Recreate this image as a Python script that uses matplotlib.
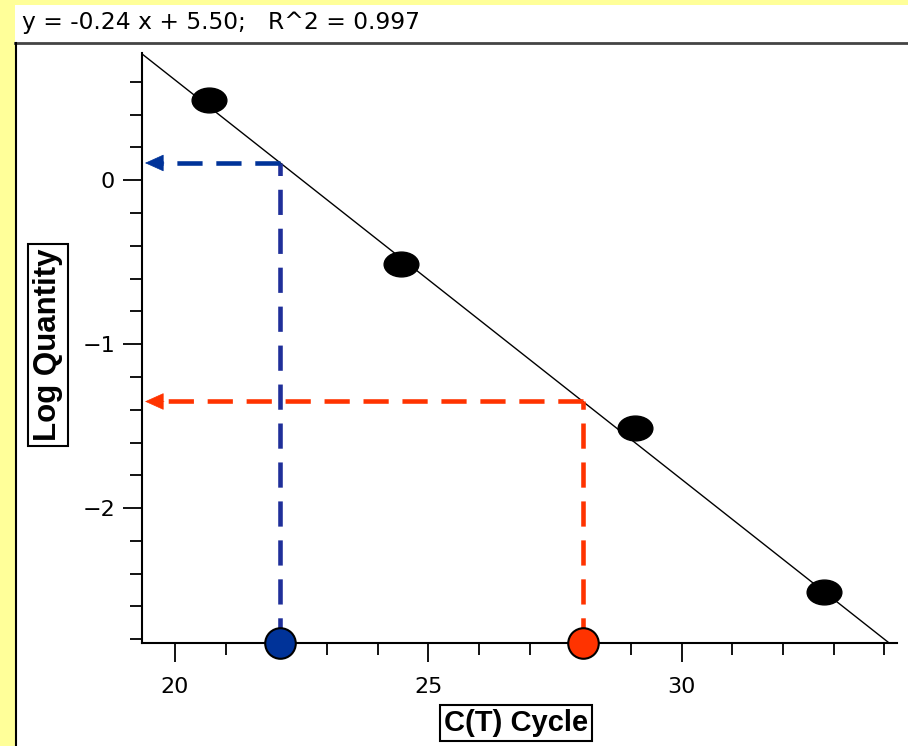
import numpy as np
import matplotlib.pyplot as plt
from matplotlib.path import Path
from matplotlib.transforms import Affine2D
from matplotlib.patches import Rectangle
from matplotlib.lines import Line2D
from matplotlib.ticker import MultipleLocator

plt.rcParams['font.family'] = 'DejaVu Sans'

# standard curve points (C(T) cycle vs log quantity)
ct_standards = [20.68, 24.46, 29.08, 32.81]
log_qty_standards = [0.49, -0.51, -1.51, -2.51]

# regression line as drawn
fit_slope = -0.2437
fit_intercept = 5.486

# unknown samples
ct_unknowns = [22.08, 28.05]
unknown_colors = ['#003399', '#ff3300']
dash_colors = ['#1f2f99', '#ff3300']

title_text = "y = -0.24 x + 5.50;   R^2 = 0.997"
x_ticks = [20, 25, 30]
y_ticks = [-2, -1, 0]

W, H = 908, 746
fig = plt.figure(figsize=(W / 100, H / 100), dpi=100, facecolor='#ffff99')


def fx(px):
    return px / W


def fy(py):
    return 1 - py / H


# white panel with frame lines
fig.add_artist(Rectangle((fx(15), 0), 1 - fx(15), fy(5), transform=fig.transFigure,
                         fc='white', ec='none', zorder=0))
fig.add_artist(Line2D([fx(15), 1], [fy(43), fy(43)], transform=fig.transFigure,
                      color='#444444', lw=2))
fig.add_artist(Line2D([fx(16), fx(16)], [0, fy(43)], transform=fig.transFigure,
                      color='black', lw=1.5))

fig.text(fx(22), fy(23), title_text, fontsize=16.8, ha='left', va='center')

ax = fig.add_axes([fx(142), fy(643), fx(897) - fx(142), fy(53) - fy(643)])
ax.patch.set_visible(False)
x0, x1 = 19.35, 34.25
y0, y1 = -2.823, 0.776
ax.set_xlim(x0, x1)
ax.set_ylim(y0, y1)

for s in ['top', 'right']:
    ax.spines[s].set_visible(False)
for s in ['left', 'bottom']:
    ax.spines[s].set_linewidth(1.5)

ax.set_xticks(x_ticks)
ax.set_yticks(y_ticks)
ax.xaxis.set_minor_locator(MultipleLocator(1))
ax.yaxis.set_minor_locator(MultipleLocator(0.2))
ax.tick_params(which='major', length=13.5, width=1.3, labelsize=16)
ax.tick_params(which='minor', length=8.5, width=1.3)
ax.tick_params(axis='x', which='major', pad=11)
ax.tick_params(axis='y', which='major', pad=6)

# regression line
xs = np.array([x0, x1])
ax.plot(xs, fit_slope * xs + fit_intercept, color='black', lw=1.0, zorder=2)

# standards as blobs
ell = Path.unit_circle().transformed(Affine2D().scale(1.4, 1.0))
ax.plot(ct_standards, log_qty_standards, linestyle='none', marker=ell,
        ms=25, color='black', zorder=3)

# unknowns: dashed guides + arrows
px_per_x = (897 - 142) / (x1 - x0)
tip_x = x0 + 3 / px_per_x
base_x = tip_x + 17 / px_per_x
for ct, c, dc in zip(ct_unknowns, unknown_colors, dash_colors):
    level = fit_slope * ct + fit_intercept
    ax.plot([ct, ct], [y0, level], color=dc, lw=3.3, dashes=(5.5, 3), zorder=4,
            dash_capstyle='butt')
    ax.plot([ct, base_x], [level, level], color=c, lw=3.3, dashes=(5.5, 3), zorder=4,
            dash_capstyle='butt')
    ax.annotate('', xy=(tip_x, level), xytext=(base_x + 2 / px_per_x, level),
                arrowprops=dict(arrowstyle='-|>,head_length=1.0,head_width=0.45',
                                mutation_scale=12.5, fc=c, ec=c, lw=0.5,
                                shrinkA=0, shrinkB=0), zorder=4)
    ax.plot(ct, y0, 'o', ms=22, mfc=c, mec='black', mew=1.5, clip_on=False, zorder=6)

box = dict(boxstyle='square,pad=0.15', fc='white', ec='black', lw=1.5)
fig.text(fx(48), fy(345), 'Log Quantity', rotation=90, ha='center', va='center',
         fontsize=22.5, fontweight='bold', family='Liberation Sans', bbox=box)
fig.text(fx(516), fy(723), 'C(T) Cycle', ha='center', va='center',
         fontsize=21, fontweight='bold', family='Liberation Sans', bbox=box)

fig.savefig('out.png', dpi=100, facecolor=fig.get_facecolor())
